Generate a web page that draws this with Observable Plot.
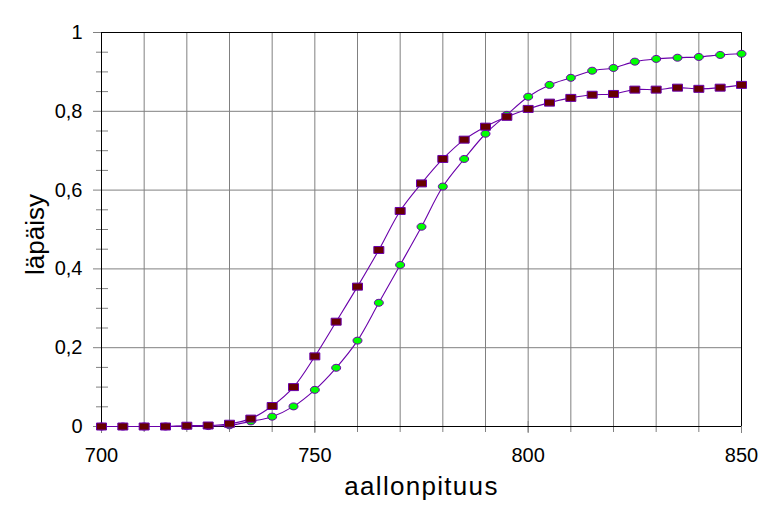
<!DOCTYPE html>
<html>
<head>
<meta charset="utf-8">
<script src="https://cdn.jsdelivr.net/npm/d3@7"></script>
<script src="https://cdn.jsdelivr.net/npm/@observablehq/plot@0.6"></script>
<style>
  html, body { margin: 0; padding: 0; background: #fff; }
  #chart svg { display: block; }
</style>
</head>
<body>
<div id="chart"></div>
<script>
const wavelength = [700,705,710,715,720,725,730,735,740,745,750,755,760,765,770,775,780,785,790,795,800,805,810,815,820,825,830,835,840,845,850];
const squareSeries = [0,0,0,0,0.002,0.0025,0.007,0.02,0.052,0.10,0.178,0.266,0.355,0.448,0.547,0.617,0.679,0.728,0.761,0.786,0.806,0.822,0.834,0.842,0.844,0.855,0.855,0.86,0.857,0.86,0.867];
const circleSeries = [0,0,0,0,0.001,0.001,0.003,0.013,0.025,0.051,0.093,0.149,0.218,0.314,0.41,0.507,0.609,0.679,0.743,0.791,0.837,0.867,0.885,0.903,0.91,0.926,0.933,0.936,0.938,0.943,0.946];
const xTicks = [700,750,800,850];
const xGrid = [710,720,730,740,750,760,770,780,790,800,810,820,830,840];
const yTicks = [0,0.2,0.4,0.6,0.8,1];
const yGrid = [0.2,0.4,0.6,0.8];
const yMinor = [0.05,0.1,0.15,0.25,0.3,0.35,0.45,0.5,0.55,0.65,0.7,0.75,0.85,0.9,0.95];
const xLabel = "aallonpituus";
const yLabel = "läpäisy";

const sqData = wavelength.map((w, i) => ({w, v: squareSeries[i]}));
const ciData = wavelength.map((w, i) => ({w, v: circleSeries[i]}));

const rectSymbol = { draw(ctx) { ctx.rect(-5, -3.5, 10, 7); } };
const ellipseSymbol = { draw(ctx) {
  const rx = 4.5, ry = 3.5, k = 0.5523;
  ctx.moveTo(rx, 0);
  ctx.bezierCurveTo(rx, ry * k, rx * k, ry, 0, ry);
  ctx.bezierCurveTo(-rx * k, ry, -rx, ry * k, -rx, 0);
  ctx.bezierCurveTo(-rx, -ry * k, -rx * k, -ry, 0, -ry);
  ctx.bezierCurveTo(rx * k, -ry, rx, -ry * k, rx, 0);
  ctx.closePath();
} };

const gray = "#808080";
const purple = "#6a00aa";

const chart = Plot.plot({
  width: 772,
  height: 532,
  marginLeft: 101,
  marginRight: 31,
  marginTop: 32,
  marginBottom: 106,
  style: { fontFamily: "'Liberation Sans', Arial, sans-serif", background: "#fff", color: "#000" },
  x: { domain: [700, 850] },
  y: { domain: [0, 1] },
  marks: [
    // vertical grid
    Plot.ruleX(xGrid, { y1: 1, y2: 0, stroke: gray, insetBottom: -6 }),
    // horizontal grid and major y ticks
    Plot.ruleY(yGrid, { x1: 700, x2: 850, stroke: gray, insetLeft: -8 }),
    Plot.ruleY([0, 1], { x1: 700, x2: 700, stroke: gray, insetLeft: -8 }),
    // minor y ticks
    Plot.ruleY(yMinor, { x1: 700, x2: 700, stroke: gray, insetLeft: -5, insetRight: -7 }),
    // major x ticks
    Plot.ruleX(xTicks, { y1: 0, y2: 0, stroke: gray, insetTop: -5, insetBottom: -7 }),
    // frame
    Plot.ruleY([0, 1], { x1: 700, x2: 850, stroke: "#000" }),
    Plot.ruleX([700, 850], { y1: 1, y2: 0, stroke: "#000" }),
    // axes labels
    Plot.axisY(yTicks, { tickSize: 0, tickPadding: 19, fontSize: 20, tickFormat: d => String(d).replace(".", ","), label: null }),
    Plot.axisX(xTicks, { tickSize: 0, tickPadding: 21, fontSize: 20, tickFormat: d => String(d), label: null }),
    // lines
    Plot.line(ciData, { x: "w", y: "v", curve: "catmull-rom", stroke: purple, strokeWidth: 1.1 }),
    Plot.line(sqData, { x: "w", y: "v", curve: "catmull-rom", stroke: purple, strokeWidth: 1.1 }),
    // markers
    Plot.dot(ciData, { x: "w", y: "v", symbol: ellipseSymbol, fill: "#00ff00", stroke: purple, strokeWidth: 1 }),
    Plot.dot(sqData, { x: "w", y: "v", symbol: rectSymbol, fill: "#660000", stroke: purple, strokeWidth: 1 }),
    // titles
    Plot.text([xLabel], { frameAnchor: "bottom", textAnchor: "middle", dy: 68, fontSize: 26, fill: "#000", text: d => d }),
    Plot.text([yLabel], { frameAnchor: "left", textAnchor: "middle", rotate: -90, dx: -66, dy: 5, fontSize: 26, fill: "#000", text: d => d })
  ]
});
d3.select(chart).selectAll("text").filter(function() { return this.textContent === xLabel; }).attr("letter-spacing", "1.3px");
document.getElementById("chart").appendChild(chart);
</script>
</body>
</html>
